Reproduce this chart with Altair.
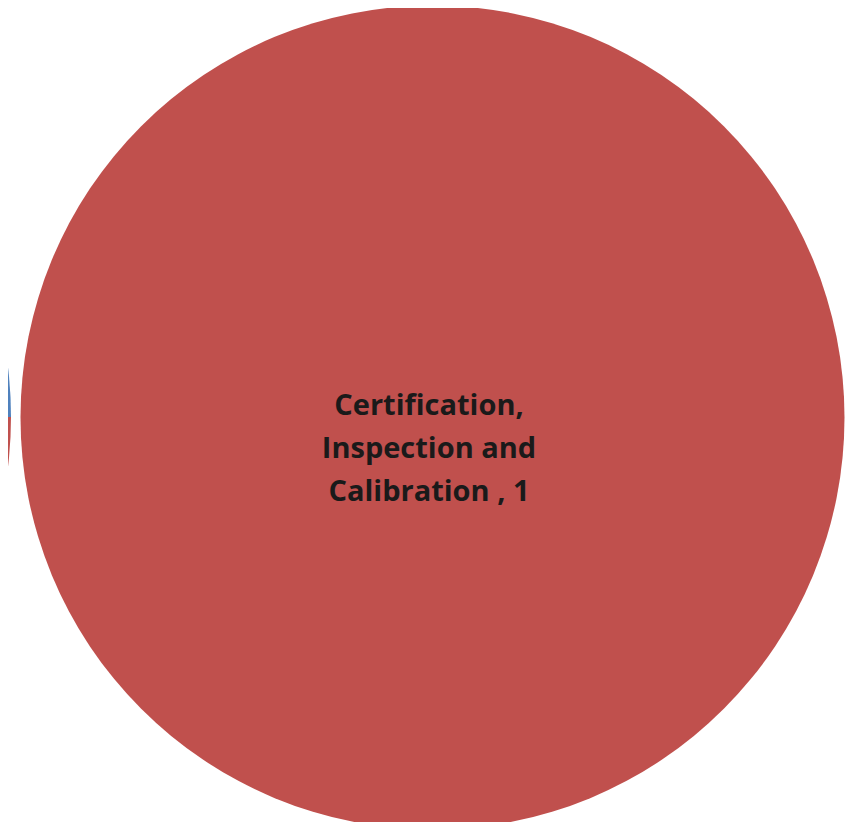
import altair as alt
import pandas as pd

# Main pie (single slice)
main_categories = ["Certification, Inspection and Calibration "]
main_values = [1]

# Partially visible pie at the left edge
left_categories = ["Other", "Certification, Inspection and Calibration "]
left_values = [1, 3]
left_order = [0, 1]

color_domain = ["Other", "Certification, Inspection and Calibration "]
color_range = ["#4F81BD", "#C0504D"]

main_df = pd.DataFrame({"category": main_categories, "value": main_values})
main_df["label"] = ["Certification,\nInspection and\nCalibration , 1"]
left_df = pd.DataFrame({"category": left_categories, "value": left_values, "ord": left_order})

color = alt.Color("category:N", scale=alt.Scale(domain=color_domain, range=color_range), legend=None)

main_pie = alt.Chart(main_df).mark_arc(radius=412).encode(
    theta=alt.Theta("value:Q", stack=True),
    color=color,
    x=alt.value(424.5),
    y=alt.value(409.5),
)

left_pie = alt.Chart(left_df).mark_arc(radius=412, clip=True).encode(
    theta=alt.Theta("value:Q", stack=True),
    color=color,
    order=alt.Order("ord:Q"),
    x=alt.value(-409),
    y=alt.value(409),
)

label = alt.Chart(main_df).mark_text(
    lineBreak="\n", font="Open Sans", fontWeight="bold", fontSize=29,
    color="#1a1a1a", align="center", baseline="middle", lineHeight=43,
).encode(
    text="label:N",
    x=alt.value(421),
    y=alt.value(398),
)

chart = alt.layer(left_pie, main_pie, label).resolve_scale(theta="independent").properties(
    width=838, height=814, padding=0,
    autosize=alt.AutoSizeParams(type="none"),
).configure_view(stroke=None)

chart.save("out.html", embed_options={"renderer": "svg", "actions": False})
